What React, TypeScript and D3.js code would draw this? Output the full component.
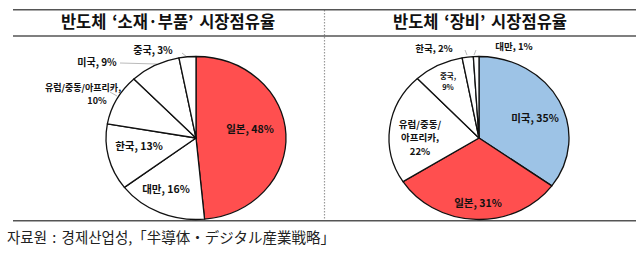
import React from "react";
import * as d3 from "d3";

const leftTitle = "반도체 ‘소재·부품’ 시장점유율";
const rightTitle = "반도체 ‘장비’ 시장점유율";
const source = "자료원 : 경제산업성,「半導体・デジタル産業戦略」";

const leftCategories = ["일본", "대만", "한국", "유럽/중동/아프리카", "미국", "중국"];
const leftValues = [48, 16, 13, 10, 9, 3];
const leftColors = ["#FF4F4F", "#FFFFFF", "#FFFFFF", "#FFFFFF", "#FFFFFF", "#FFFFFF"];

const rightCategories = ["미국", "일본", "유럽/중동/아프리카", "중국", "한국", "대만"];
const rightValues = [35, 31, 22, 9, 2, 1];
const rightColors = ["#9DC3E6", "#FF4F4F", "#FFFFFF", "#FFFFFF", "#FFFFFF", "#FFFFFF"];

type Lbl = { lines: string[]; x: number; y: number; size: number; lh?: number };

const leftLabels: Lbl[] = [
  { lines: ["일본, 48%"], x: 250, y: 128, size: 10.5 },
  { lines: ["대만, 16%"], x: 166, y: 188, size: 10.5 },
  { lines: ["한국, 13%"], x: 139, y: 145, size: 10.5 },
  { lines: ["유럽/중동/아프리카,"], x: 83, y: 87.5, size: 9 },
  { lines: ["10%"], x: 97, y: 100.6, size: 9 },
  { lines: ["미국, 9%"], x: 97, y: 61, size: 10 },
  { lines: ["중국, 3%"], x: 153, y: 49, size: 10 },
];

const rightLabels: Lbl[] = [
  { lines: ["미국, 35%"], x: 535, y: 117, size: 10.5 },
  { lines: ["일본, 31%"], x: 478, y: 202, size: 10.5 },
  { lines: ["유럽/중동/", "아프리카,", "22%"], x: 420, y: 123.5, size: 9.5, lh: 13.8 },
  { lines: ["중국,", "9%"], x: 448, y: 75, size: 7.5, lh: 11 },
  { lines: ["한국, 2%"], x: 434, y: 48, size: 9.5 },
  { lines: ["대만, 1%"], x: 514, y: 46, size: 9.5 },
];

const leftLeaders = [
  [120, 63, 157, 64],
  [182, 53, 187, 57],
  [110, 92, 117, 96],
];
const rightLeaders = [
  [465, 50, 467, 55],
  [476, 50, 474, 55],
];

const RX = 90;
const RY = 81.5;

function Pie({ cx, cy, values, colors }: { cx: number; cy: number; values: number[]; colors: string[] }) {
  const pie = d3.pie<number>().sort(null).value((d) => d)(values);
  const arc = d3.arc<d3.PieArcDatum<number>>().innerRadius(0).outerRadius(RY);
  return (
    <g transform={`translate(${cx},${cy}) scale(${RX / RY},1)`}>
      {pie.map((p, i) => (
        <path
          key={i}
          d={arc(p) || ""}
          fill={colors[i]}
          stroke="#111"
          strokeWidth={1.3}
          vectorEffect="non-scaling-stroke"
          strokeLinejoin="round"
        />
      ))}
    </g>
  );
}

function Labels({ labels }: { labels: Lbl[] }) {
  return (
    <g fontFamily="'Noto Sans CJK KR', sans-serif" fontWeight="bold" fill="#111" textAnchor="middle">
      {labels.map((l, i) =>
        l.lines.map((t, j) => (
          <text key={`${i}-${j}`} x={l.x} y={l.y + j * (l.lh || 11)} fontSize={l.size} dominantBaseline="central">
            {t}
          </text>
        ))
      )}
    </g>
  );
}

export default function App() {
  return (
    <svg
      width={640}
      height={253}
      style={{ position: "absolute", left: 0, top: 0, background: "#fff" }}
    >
      <rect width={640} height={253} fill="#fff" />
      <line x1={324.5} x2={324.5} y1={10} y2={220.5} stroke="#999" strokeWidth={1.2} strokeDasharray="1.5,1.5" />
      <line x1={13} x2={636} y1={9.7} y2={9.7} stroke="#555" strokeWidth={1.5} />
      <line x1={13} x2={636} y1={36} y2={36} stroke="#555" strokeWidth={1.5} />
      <line x1={13} x2={636} y1={220.7} y2={220.7} stroke="#555" strokeWidth={1.5} />

      <g fontFamily="'Noto Sans CJK KR', sans-serif" fontWeight="bold" fill="#111" textAnchor="middle" fontSize={16.5}>
        <text x={168} y={28} style={{ wordSpacing: "2px" }}>{leftTitle}</text>
        <text x={480} y={28} style={{ wordSpacing: "2px" }}>{rightTitle}</text>
      </g>

      <g stroke="#bbb" strokeWidth={1}>
        {leftLeaders.concat(rightLeaders).map((l, i) => (
          <line key={i} x1={l[0]} y1={l[1]} x2={l[2]} y2={l[3]} />
        ))}
      </g>

      <Pie cx={196} cy={138} values={leftValues} colors={leftColors} />
      <Pie cx={479} cy={138} values={rightValues} colors={rightColors} />
      <Labels labels={leftLabels} />
      <Labels labels={rightLabels} />

      <text x={7} y={243} fontFamily="'Noto Sans CJK KR', sans-serif" fontSize={14.5} fill="#222" style={{ wordSpacing: "2px" }}>
        {source}
      </text>
    </svg>
  );
}
